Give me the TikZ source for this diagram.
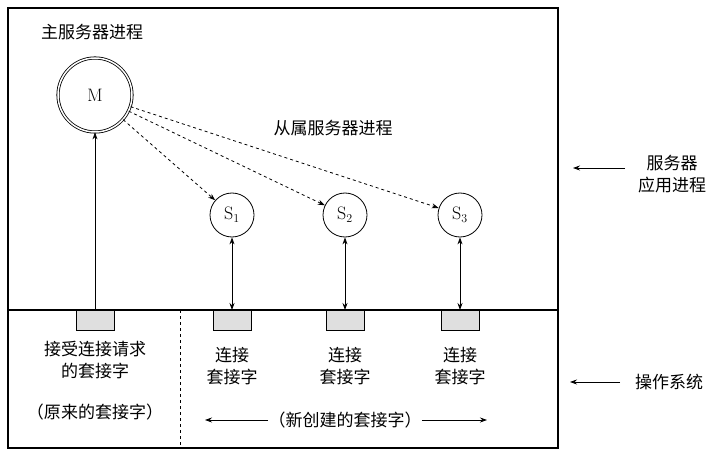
\documentclass[tikz,border=0pt]{standalone}
\usepackage{fontspec}
\newfontfamily\cjk{Noto Sans CJK SC}
\usetikzlibrary{arrows.meta}
\begin{document}
\begin{tikzpicture}[x=1pt,y=-1pt,line width=0.8pt,
  txt/.style={font=\cjk\fontsize{17}{22}\selectfont,align=center,inner sep=0},
  sock/.style={draw,fill=gray!25,minimum width=38pt,minimum height=20pt,inner sep=0},
  slave/.style={draw,circle,minimum size=44pt,inner sep=0,font=\fontsize{18}{21}\selectfont},
  arr/.style={-{Stealth[length=7pt,width=5pt]}},
  darr/.style={{Stealth[length=7pt,width=5pt]}-{Stealth[length=7pt,width=5pt]}}]
\useasboundingbox (0,0) rectangle (717,457);
\draw[line width=1.1pt] (8,8) rectangle (558,448);
\draw[line width=1.1pt] (8,310) -- (558,310);
\draw[dashed] (180,310) -- (180,448);
\node[draw,double,double distance=1.5pt,circle,minimum size=74pt,inner sep=0,font=\fontsize{18}{21}\selectfont] (M) at (95,95) {M};
\node[slave] (S1) at (232,215) {S$_1$};
\node[slave] (S2) at (345,215) {S$_2$};
\node[slave] (S3) at (460,215) {S$_3$};
\node[sock,anchor=north] (B0) at (95,310) {};
\node[sock,anchor=north] (B1) at (232,310) {};
\node[sock,anchor=north] (B2) at (345,310) {};
\node[sock,anchor=north] (B3) at (460,310) {};
\draw[arr] (B0.north) -- (M.south);
\draw[arr,dashed] (M) -- (S1);
\draw[arr,dashed] (M) -- (S2);
\draw[arr,dashed] (M) -- (S3);
\draw[darr] (S1.south) -- (B1.north);
\draw[darr] (S2.south) -- (B2.north);
\draw[darr] (S3.south) -- (B3.north);
\node[txt] (t0) at (92,32) {主服务器进程};
\node[txt] (t1) at (333,128) {从属服务器进程};
\node[txt] (t2) at (672,174) {服务器\\应用进程};
\node[txt] (t3) at (669,382) {操作系统};
\coordinate (a2) at (625,168); \coordinate (a2e) at (573,168);
\draw[arr] (a2) -- (a2e);
\coordinate (a3) at (620,382); \coordinate (a3e) at (570,382);
\draw[arr] (a3) -- (a3e);
\node[txt] (r0) at (95,360) {接受连接请求\\的套接字};
\node[txt] (r0b) at (95,412) {（原来的套接字）};
\node[txt] (r1) at (232,366) {连接\\套接字};
\node[txt] (r2) at (345,366) {连接\\套接字};
\node[txt] (r3) at (460,366) {连接\\套接字};
\node[txt] (nw) at (345,420) {（新创建的套接字）};
\coordinate (l1) at (205,420); \coordinate (l2) at (487,420);
\draw[arr] (nw.west) -- (l1);
\draw[arr] (nw.east) -- (l2);
\end{tikzpicture}
\end{document}
